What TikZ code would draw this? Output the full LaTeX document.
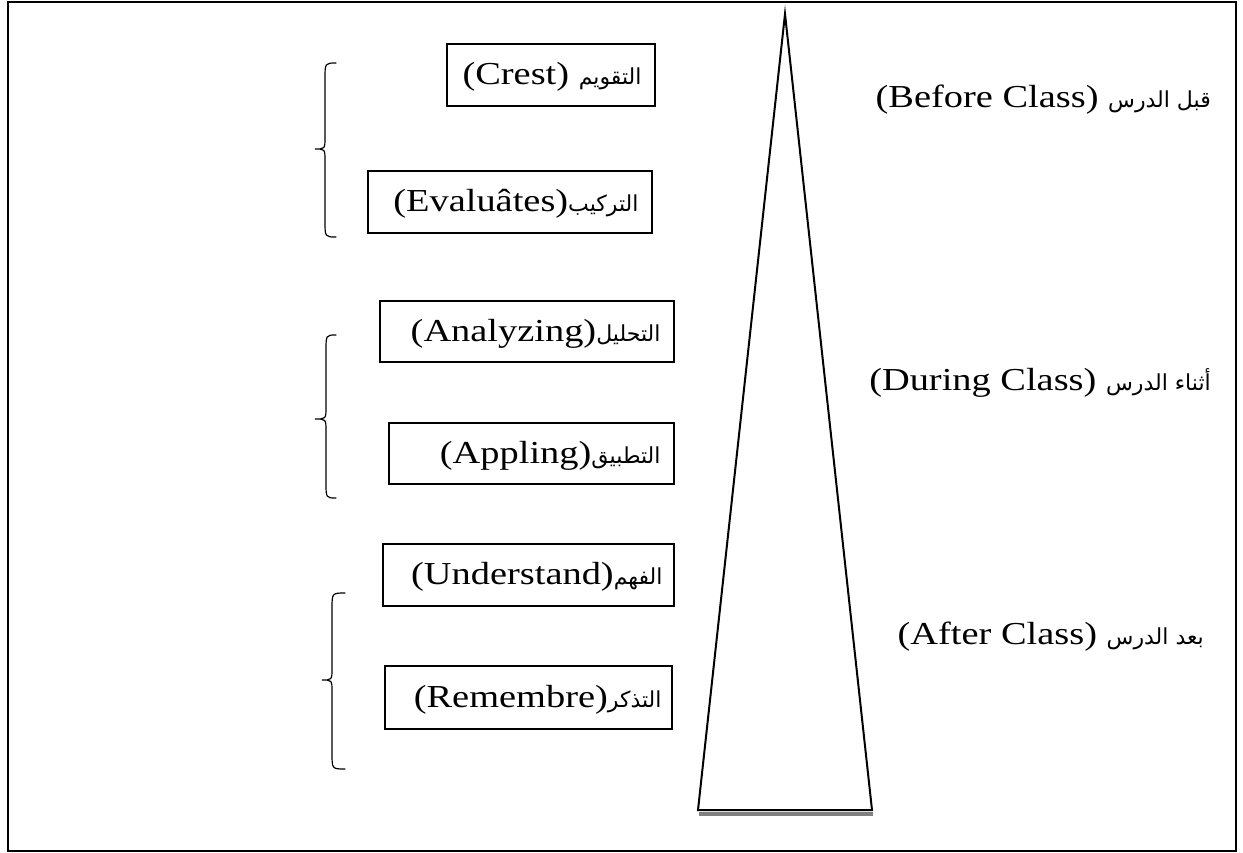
\documentclass[tikz,border=0pt]{standalone}
\usepackage{fontspec}
\setmainfont[FakeStretch=1.2]{Liberation Serif}
\newfontfamily\arabicfont[Script=Arabic]{DejaVu Sans}
\TeXXeTstate=1
\usetikzlibrary{calc}
\newcommand\ar[1]{{\arabicfont\fontsize{22}{26}\selectfont\beginR #1\endR}}
\newcommand\drawLBrace[6]{% xl xm xr top tip bottom
  \draw[bracestyle] (#3,#4) .. controls (#2,#4) .. (#2,#4+16) -- (#2,#5-12)
    .. controls (#2,#5) .. (#1,#5) .. controls (#2,#5) .. (#2,#5+12)
    -- (#2,#6-16) .. controls (#2,#6) .. (#3,#6);}
\tikzset{
  boxframe/.style={draw, line width=1.4pt, inner sep=0pt},
  boxtext/.style={anchor=east, inner sep=0pt, font=\fontsize{32}{35}\selectfont},
  sidelabel/.style={anchor=east, inner sep=0pt, font=\fontsize{32}{35}\selectfont},
  bracestyle/.style={line width=1.2pt, line cap=round},
  pyramid/.style={line width=2pt, line join=miter},
}
\begin{document}
\begin{tikzpicture}[x=1pt,y=-1pt]
\useasboundingbox (0,0) rectangle (1243,852);
\draw[line width=2pt] (8,1.5) rectangle (1236,850.5);

% pyramid
\coordinate (apex) at (785,14);
\coordinate (bl) at (698,810);
\coordinate (br) at (872,810);
\draw[gray, line width=4pt] ($(bl)+(1,3.5)$) -- ($(br)+(1,3.5)$);
\draw[pyramid, fill=white] (apex) -- (br) -- (bl) -- cycle;

% boxes
\node[boxframe, minimum width=208pt, minimum height=62pt] (b1) at (551,75) {};
\node[boxtext] (t1) at ([xshift=-14pt,yshift=-2pt]b1.east) {(Crest) \ar{التقويم}};
\node[boxframe, minimum width=284pt, minimum height=62pt] (b2) at (510,202) {};
\node[boxtext] (t2) at ([xshift=-14pt,yshift=-2pt]b2.east) {(Evaluâtes)\ar{التركيب}};
\node[boxframe, minimum width=294pt, minimum height=61pt] (b3) at (527,331.5) {};
\node[boxtext] (t3) at ([xshift=-14pt,yshift=-2pt]b3.east) {(Analyzing)\ar{التحليل}};
\node[boxframe, minimum width=285pt, minimum height=61pt] (b4) at (531.5,453.5) {};
\node[boxtext] (t4) at ([xshift=-14pt,yshift=-2pt]b4.east) {(Appling)\ar{التطبيق}};
\node[boxframe, minimum width=291pt, minimum height=62pt] (b5) at (528.5,575) {};
\node[boxtext] (t5) at ([xshift=-12pt,yshift=-2pt]b5.east) {(Understand)\ar{الفهم}};
\node[boxframe, minimum width=287pt, minimum height=63pt] (b6) at (528.5,697.5) {};
\node[boxtext] (t6) at ([xshift=-11pt,yshift=-2pt]b6.east) {(Remembre)\ar{التذكر}};

% braces
\drawLBrace{315}{325}{336}{63}{149}{237}
\drawLBrace{315}{326}{336}{335}{419}{498}
\drawLBrace{322}{332}{345}{593}{680}{769}

% side labels
\node[sidelabel] (s1) at (1211,100) {(Before Class) \ar{قبل الدرس}};
\node[sidelabel] (s2) at (1211,383) {(During Class) \ar{أثناء الدرس}};
\node[sidelabel] (s3) at (1204,637) {(After Class) \ar{بعد الدرس}};
\end{tikzpicture}
\end{document}
